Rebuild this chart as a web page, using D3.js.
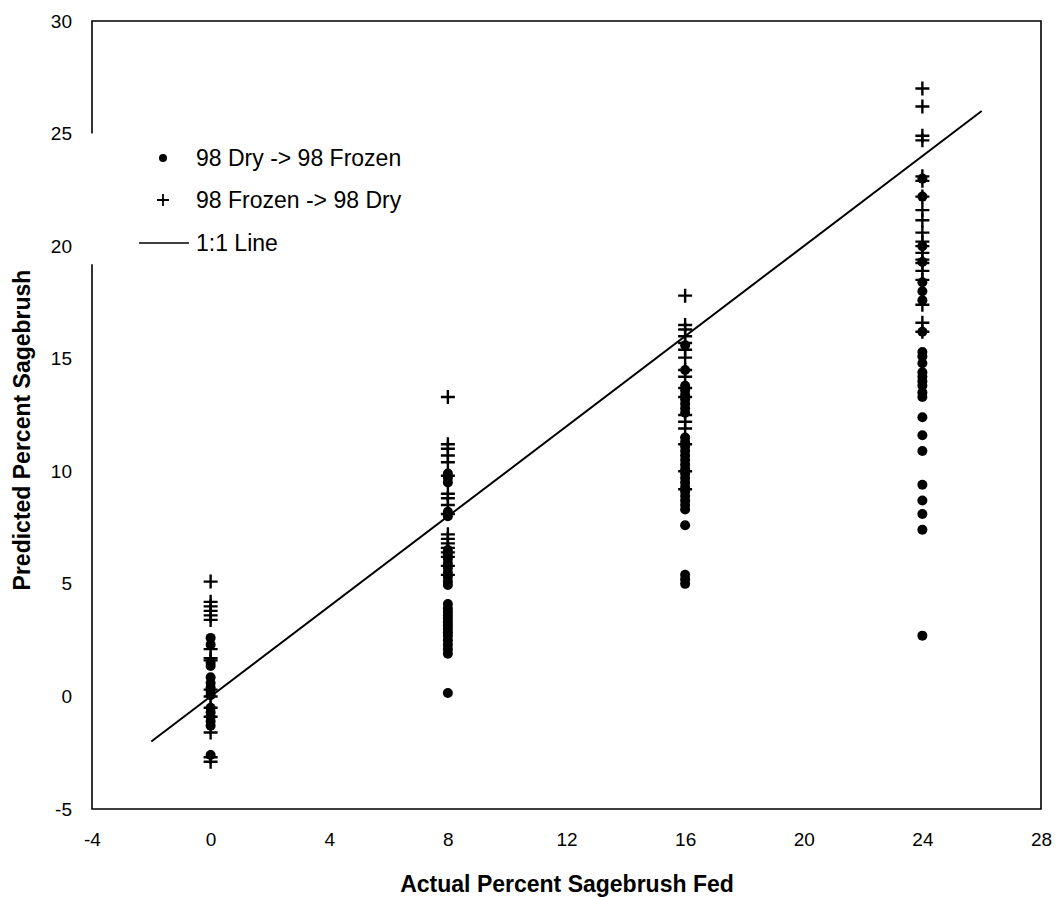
<!DOCTYPE html>
<html>
<head>
<meta charset="utf-8">
<script src="https://cdn.jsdelivr.net/npm/d3@7"></script>
<style>
  html, body { margin: 0; padding: 0; background: #fff; }
  svg text { font-family: "Liberation Sans", Arial, Helvetica, sans-serif; fill: #000; }
</style>
</head>
<body>
<svg id="chart" width="1060" height="897"></svg>
<script>
// ---- data ----
const categories = [0, 8, 16, 24];
const seriesNames = ["98 Dry -> 98 Frozen", "98 Frozen -> 98 Dry", "1:1 Line"];
const xTicks = [-4, 0, 4, 8, 12, 16, 20, 24, 28];
const yTicks = [-5, 0, 5, 10, 15, 20, 25, 30];
const xTitle = "Actual Percent Sagebrush Fed";
const yTitle = "Predicted Percent Sagebrush";

// 98 Dry -> 98 Frozen (dots), one list per category
const dryToFrozen0 = [2.6, 2.3, 1.5, 1.35, 0.85, 0.6, 0.4, 0.2, 0.05, -0.5, -0.7, -0.9, -1.1, -1.3, -2.6];
const dryToFrozen8 = [9.9, 9.7, 9.5, 8.2, 8.0, 6.5, 6.3, 6.1, 5.9, 5.7, 5.5, 5.3, 5.1, 4.95,
                      4.1, 3.9, 3.75, 3.6, 3.45, 3.3, 3.15, 3.0, 2.85, 2.7, 2.5, 2.3, 2.1, 1.9, 0.15];
const dryToFrozen16 = [15.6, 14.5, 13.8, 13.6, 13.4, 13.2, 13.0, 12.8, 12.6, 11.5, 11.3, 11.1, 10.9,
                       10.7, 10.5, 10.3, 10.1, 9.9, 9.7, 9.5, 9.3, 9.1, 8.9, 8.7, 8.5, 8.3, 7.6, 5.4, 5.2, 5.0];
const dryToFrozen24 = [23.0, 22.2, 20.0, 19.3, 18.4, 18.0, 17.6, 16.2, 15.3, 15.1, 14.8, 14.4, 14.2,
                       14.0, 13.8, 13.5, 13.3, 12.4, 11.6, 10.9, 9.4, 8.7, 8.1, 7.4, 2.7];

// 98 Frozen -> 98 Dry (pluses)
const frozenToDry0 = [5.1, 4.2, 4.0, 3.8, 3.6, 3.4, 2.1, 1.7, 1.6, 0.3, 0.0, -0.5, -0.9, -1.6, -2.7, -2.9];
const frozenToDry8 = [13.3, 11.2, 11.0, 10.7, 10.4, 9.8, 9.0, 8.8, 8.5, 8.1, 7.2, 7.0, 6.8, 6.6, 6.4, 6.2, 5.8, 5.4];
const frozenToDry16 = [17.8, 16.5, 16.3, 16.0, 15.7, 15.4, 15.05, 14.5, 14.2, 13.7, 13.3, 12.5, 12.2, 11.9, 11.2, 10.0, 9.2];
const frozenToDry24 = [27.0, 26.2, 24.9, 24.7, 23.1, 22.9, 22.2, 21.6, 21.15, 20.6, 20.2, 20.0, 19.7,
                       19.4, 19.25, 18.9, 18.5, 17.4, 16.6, 16.2];

// 1:1 reference line endpoints
const oneToOne = [-2, 26];

// ---- build ----
const dryToFrozen = [dryToFrozen0, dryToFrozen8, dryToFrozen16, dryToFrozen24];
const frozenToDry = [frozenToDry0, frozenToDry8, frozenToDry16, frozenToDry24];
const dots = [], pluses = [];
categories.forEach((c, i) => {
  dryToFrozen[i].forEach(v => dots.push({x: c, y: v}));
  frozenToDry[i].forEach(v => pluses.push({x: c, y: v}));
});

const svg = d3.select("#chart");
const x = d3.scaleLinear().domain([-4, 28]).range([92, 1041]);
const y = d3.scaleLinear().domain([-5, 30]).range([809, 21]);

// frame (left axis has a gap behind the legend)
const frame = svg.append("g").attr("stroke", "#000").attr("stroke-width", 1.6).attr("fill", "none");
frame.append("path").attr("d",
  `M${x(-4)},${y(25)} L${x(-4)},${y(30)} L${x(28)},${y(30)} L${x(28)},${y(-5)} L${x(-4)},${y(-5)} L${x(-4)},${y(19.2)}`);

// axes (labels only)
const xAxis = svg.append("g").attr("transform", `translate(0,${y(-5)})`)
  .call(d3.axisBottom(x).tickValues(xTicks).tickSize(0).tickPadding(24).tickFormat(d => String(d)));
xAxis.select(".domain").remove();
xAxis.selectAll("text").style("font-size", "19px").attr("font-family", null);

const yAxis = svg.append("g").attr("transform", `translate(${x(-4)},0)`)
  .call(d3.axisLeft(y).tickValues(yTicks).tickSize(0).tickPadding(20).tickFormat(d => String(d)));
yAxis.select(".domain").remove();
yAxis.selectAll("text").style("font-size", "19px").attr("font-family", null);

// titles
svg.append("text").attr("x", 567).attr("y", 892).attr("text-anchor", "middle")
  .style("font-size", "23px").style("font-weight", "bold").text(xTitle);
svg.append("text").attr("transform", "translate(30,430) rotate(-90)").attr("text-anchor", "middle")
  .style("font-size", "23px").style("font-weight", "bold").text(yTitle);

// 1:1 line
svg.append("line")
  .attr("x1", x(oneToOne[0])).attr("y1", y(oneToOne[0]))
  .attr("x2", x(oneToOne[1])).attr("y2", y(oneToOne[1]))
  .attr("stroke", "#000").attr("stroke-width", 2);

// dots
svg.append("g").selectAll("circle").data(dots).join("circle")
  .attr("cx", d => x(d.x)).attr("cy", d => y(d.y)).attr("r", 5).attr("fill", "#000");

// pluses
const ph = 7;
svg.append("g").attr("stroke", "#000").attr("stroke-width", 2.4).selectAll("path").data(pluses).join("path")
  .attr("d", d => `M${x(d.x) - ph},${y(d.y)} H${x(d.x) + ph} M${x(d.x)},${y(d.y) - ph} V${y(d.y) + ph}`);

// legend
const lg = svg.append("g");
lg.append("circle").attr("cx", 163).attr("cy", 158).attr("r", 4).attr("fill", "#000");
lg.append("path").attr("d", "M157,200 H169 M163,194 V206").attr("stroke", "#000").attr("stroke-width", 1.8);
lg.append("line").attr("x1", 139).attr("x2", 189).attr("y1", 243).attr("y2", 243).attr("stroke", "#000").attr("stroke-width", 1.6);
[158, 200, 243].forEach((cy, i) => {
  lg.append("text").attr("x", 196).attr("y", cy + 8).style("font-size", "23px").text(seriesNames[i]);
});
</script>
</body>
</html>
